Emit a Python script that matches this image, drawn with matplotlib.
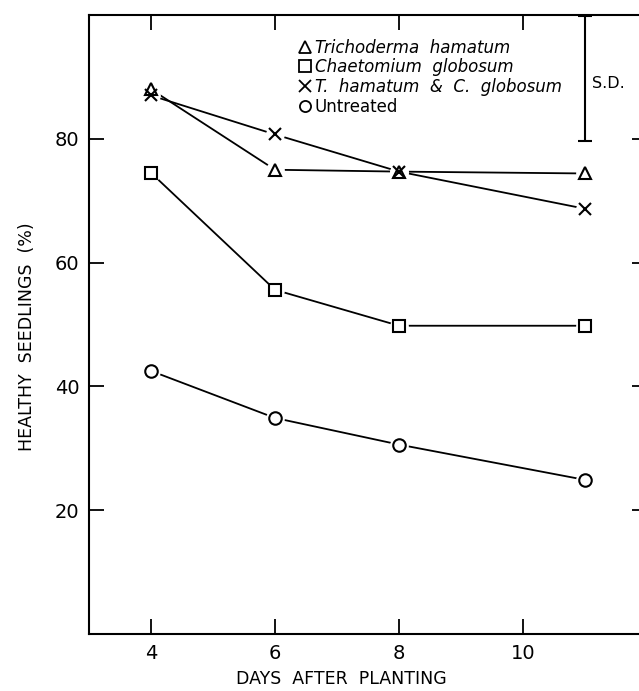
import matplotlib
matplotlib.use("Agg")
import matplotlib.pyplot as plt
from matplotlib.lines import Line2D

# ---- data ----
days = [4, 6, 8, 11]
trichoderma = [88.0, 75.0, 74.7, 74.4]
chaetomium = [74.5, 55.6, 49.8, 49.8]
combined = [87.0, 80.7, 74.7, 68.7]
untreated = [42.5, 34.9, 30.6, 24.9]

labels = ["Trichoderma  hamatum", "Chaetomium  globosum",
          "T.  hamatum  &  C.  globosum", "Untreated"]
markers = ["^", "s", "x", "o"]
series = [trichoderma, chaetomium, combined, untreated]

sd_x = 11
sd_low, sd_high = 79.7, 99.9

xticks = [4, 6, 8, 10]
yticks = [20, 40, 60, 80]

plt.rcParams['font.family'] = ['DejaVu Sans']

fig = plt.figure(figsize=(6.39, 6.91), dpi=100)
ax = fig.add_axes([89/639, (691-634)/691, (647-89)/639, (634-15)/691])

# lines first
for ys in series:
    ax.plot(days, ys, color='black', lw=1.3, zorder=2)
# white halos to create gaps
for m, ys in zip(markers, series):
    ax.plot(days, ys, linestyle='none', marker='o', ms=13.5, mfc='white',
            mec='none', zorder=3)
# markers
for m, ys in zip(markers, series):
    ax.plot(days, ys, linestyle='none', marker=m, ms=9,
            mfc='white', mec='black', mew=1.5, zorder=4)

# S.D. bar
sd_c = (sd_low + sd_high) / 2
ax.errorbar([sd_x], [sd_c], yerr=[[sd_c - sd_low], [sd_high - sd_c]],
            fmt='none', ecolor='black', elinewidth=1.5, capsize=5,
            capthick=1.5, zorder=5)
ax.text(sd_x + 0.12, 89, "S.D.", fontsize=11.5, va='center', ha='left')

ax.set_xlim(3, 12)
ax.set_ylim(0, 100)
ax.set_xticks(xticks)
ax.set_yticks(yticks)
ax.set_xticklabels([str(v) for v in xticks])
ax.set_yticklabels([str(v) for v in yticks])
ax.tick_params(direction='in', length=11, width=1.3, labelsize=14,
               top=True, right=True, pad=7)
for s in ax.spines.values():
    s.set_linewidth(1.5)

ax.set_xlabel("DAYS  AFTER  PLANTING", fontsize=12.5)
ax.xaxis.set_label_coords(0.453, -0.058)
ax.set_ylabel("HEALTHY  SEEDLINGS  (%)", fontsize=12.5)
ax.yaxis.set_label_coords(-0.095, 0.48)

handles = [Line2D([], [], linestyle='none', marker=m, ms=8, mfc='white',
                  mec='black', mew=1.3) for m in markers]
leg = ax.legend(handles, labels, loc='upper left',
                bbox_to_anchor=(0.376, 0.962), frameon=False,
                fontsize=12, handlelength=0.7, handletextpad=0.25,
                labelspacing=0.1, borderpad=0, borderaxespad=0)
for i, t in enumerate(leg.get_texts()):
    t.set_style('italic' if i < 3 else 'normal')

fig.savefig("out.png", dpi=100)
